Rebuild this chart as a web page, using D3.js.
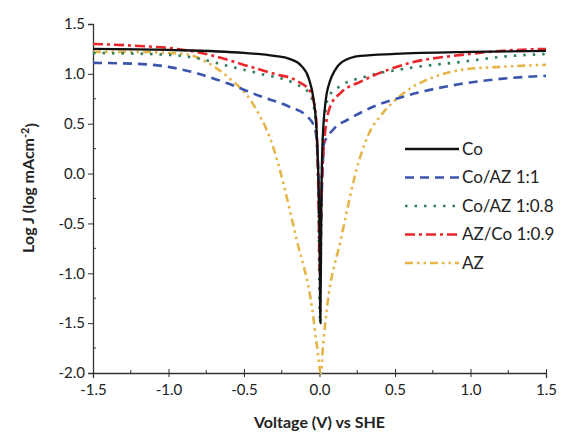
<!DOCTYPE html>
<html>
<head>
<meta charset="utf-8">
<script src="https://cdn.jsdelivr.net/npm/d3@7"></script>
<style>
  body { margin: 0; background: #fff; }
  text { font-family: Lato, "Open Sans", sans-serif; }
</style>
</head>
<body>
<script>
// values: voltage (V vs SHE) and log J
var coV   = [-1.5, -1.0, -0.5, -0.3, -0.2, -0.12, -0.07, -0.04, -0.02, -0.01, 0.0, 0.006, 0.012, 0.02, 0.04, 0.07, 0.1, 0.15, 0.27, 0.5, 1.0, 1.5];
var coJ   = [1.25, 1.24, 1.21, 1.18, 1.15, 1.08, 0.95, 0.75, 0.45, 0.1, -0.6, -1.5, -0.3, 0.3, 0.72, 0.93, 1.03, 1.12, 1.18, 1.2, 1.22, 1.23];

var c11V  = [-1.5, -1.2, -1.0, -0.8, -0.6, -0.4, -0.2, -0.08, -0.03, -0.01, 0.005, 0.015, 0.03, 0.09, 0.2, 0.34, 0.6, 0.94, 1.2, 1.5];
var c11J  = [1.11, 1.1, 1.07, 1.0, 0.9, 0.78, 0.67, 0.57, 0.45, 0.1, -0.7, -0.2, 0.3, 0.44, 0.55, 0.66, 0.79, 0.9, 0.95, 0.98];

var c08V  = [-1.5, -0.99, -0.79, -0.61, -0.39, -0.16, -0.07, -0.03, -0.01, 0.004, 0.012, 0.025, 0.06, 0.14, 0.3, 0.6, 0.94, 1.2, 1.5];
var c08J  = [1.21, 1.19, 1.15, 1.08, 1.0, 0.9, 0.81, 0.6, 0.0, -1.5, -0.4, 0.4, 0.77, 0.88, 0.97, 1.06, 1.12, 1.17, 1.2];

var c09V  = [-1.5, -1.2, -0.94, -0.7, -0.5, -0.3, -0.15, -0.06, -0.025, -0.01, 0.003, 0.012, 0.03, 0.07, 0.14, 0.27, 0.6, 0.94, 1.2, 1.5];
var c09J  = [1.3, 1.28, 1.25, 1.18, 1.09, 1.0, 0.93, 0.82, 0.6, 0.0, -1.0, -0.3, 0.3, 0.67, 0.81, 0.92, 1.11, 1.19, 1.23, 1.25];

var azV   = [-1.5, -1.27, -0.9, -0.75, -0.6, -0.45, -0.31, -0.15, -0.05, -0.015, 0.008, 0.025, 0.05, 0.14, 0.26, 0.34, 0.4, 0.56, 0.76, 0.94, 1.2, 1.5];
var azJ   = [1.22, 1.22, 1.2, 1.12, 0.96, 0.72, 0.28, -0.67, -1.34, -1.75, -2.0, -1.7, -1.34, -0.67, 0.12, 0.44, 0.57, 0.81, 0.97, 1.04, 1.07, 1.09];

var seriesNames = ['Co', 'Co/AZ 1:1', 'Co/AZ 1:0.8', 'AZ/Co 1:0.9', 'AZ'];
var seriesColors = ['#111111', '#3b55ad', '#2f7d5a', '#e8262b', '#e5b54a'];
var seriesDash = ['none', '9,6', '2.5,7', '10,4,3,4', '8,4,2.5,4,2.5,4'];
var xTicks = [-1.5, -1.0, -0.5, 0.0, 0.5, 1.0, 1.5];
var yTicks = [-2.0, -1.5, -1.0, -0.5, 0.0, 0.5, 1.0, 1.5];

var series = [
  {v: coV, j: coJ}, {v: c11V, j: c11J}, {v: c08V, j: c08J}, {v: c09V, j: c09J}, {v: azV, j: azJ}
];

var w = 565, h = 440;
var margin = {left: 93, right: 19, top: 24, bottom: 67};

var svg = d3.select('body').append('svg')
  .attr('width', w).attr('height', h);

var xScale = d3.scaleLinear().domain([-1.5, 1.5]).range([margin.left, w - margin.right]);
var yScale = d3.scaleLinear().domain([-2.0, 1.5]).range([h - margin.bottom, margin.top]);

// plain hyphen minus like the original
var fmt = function(d){ return d3.format('.1f')(d).replace('\u2212', '-'); };

// minor ticks (inside)
var xMinor = d3.range(-1.25, 1.5, 0.5);
var yMinor = d3.range(-1.75, 1.5, 0.5);
svg.selectAll('.xminor').data(xMinor).enter().append('line')
  .attr('x1', function(d){ return xScale(d); }).attr('x2', function(d){ return xScale(d); })
  .attr('y1', yScale(-2)).attr('y2', yScale(-2) - 3)
  .attr('stroke', '#333').attr('stroke-width', 1);
svg.selectAll('.yminor').data(yMinor).enter().append('line')
  .attr('x1', xScale(-1.5)).attr('x2', xScale(-1.5) + 3)
  .attr('y1', function(d){ return yScale(d); }).attr('y2', function(d){ return yScale(d); })
  .attr('stroke', '#333').attr('stroke-width', 1);

var xAxis = d3.axisBottom(xScale).tickValues(xTicks).tickFormat(fmt).tickSizeOuter(0).tickSize(5).tickPadding(3);
var yAxis = d3.axisLeft(yScale).tickValues(yTicks).tickFormat(fmt).tickSizeOuter(0).tickSize(5).tickPadding(3);

var gx = svg.append('g')
  .attr('transform', 'translate(0,' + yScale(-2) + ')')
  .call(xAxis);
var gy = svg.append('g')
  .attr('transform', 'translate(' + xScale(-1.5) + ',0)')
  .call(yAxis);

[gx, gy].forEach(function(g){
  g.select('.domain').attr('stroke', '#333').attr('stroke-width', 1.3);
  g.selectAll('.tick line').attr('stroke', '#333').attr('stroke-width', 1);
  g.selectAll('.tick text').attr('font-size', '15px').attr('fill', '#222')
    .style('font-family', 'Lato, "Open Sans", sans-serif');
});
gx.selectAll('.tick line').attr('y1', -4).attr('y2', 4);
gx.selectAll('.tick text').attr('dy', '0.95em');

var line = d3.line()
  .x(function(d){ return xScale(d[0]); })
  .y(function(d){ return yScale(d[1]); })
  .curve(d3.curveMonotoneX);

// draw in back-to-front order
var order = [4, 1, 2, 3, 0];
order.forEach(function(i){
  var s = series[i];
  var pts = s.v.map(function(v, k){ return [v, s.j[k]]; });
  svg.append('path')
    .datum(pts)
    .attr('d', line)
    .attr('fill', 'none')
    .attr('stroke', seriesColors[i])
    .attr('stroke-width', i === 0 ? 2.3 : 2.6)
    .attr('stroke-dasharray', seriesDash[i])
    .attr('stroke-linecap', 'butt');
});

// legend
var legend = svg.append('g');
seriesNames.forEach(function(name, i){
  var yy = 149 + i * 28.5;
  legend.append('line')
    .attr('x1', 405).attr('x2', 459)
    .attr('y1', yy).attr('y2', yy)
    .attr('stroke', seriesColors[i])
    .attr('stroke-width', 2.6)
    .attr('stroke-dasharray', seriesDash[i]);
  legend.append('text')
    .attr('x', 462).attr('y', yy)
    .attr('dy', '0.35em')
    .attr('font-size', '17px')
    .attr('fill', '#222')
    .text(name);
});

// axis titles
svg.append('text')
  .attr('x', (xScale(-1.5) + xScale(1.5)) / 2)
  .attr('y', 428)
  .attr('text-anchor', 'middle')
  .attr('font-size', '16px')
  .attr('font-weight', 'bold')
  .attr('fill', '#222')
  .text('Voltage (V) vs SHE');

var yt = svg.append('text')
  .attr('transform', 'translate(34,188) rotate(-90)')
  .attr('text-anchor', 'middle')
  .attr('font-size', '16px')
  .attr('font-weight', 'bold')
  .attr('fill', '#222');
yt.append('tspan').text('Log J (log mAcm');
yt.append('tspan').attr('dy', '-0.5em').attr('font-size', '11px').text('-2');
yt.append('tspan').attr('dy', '0.5em').text(')');
</script>
</body>
</html>
